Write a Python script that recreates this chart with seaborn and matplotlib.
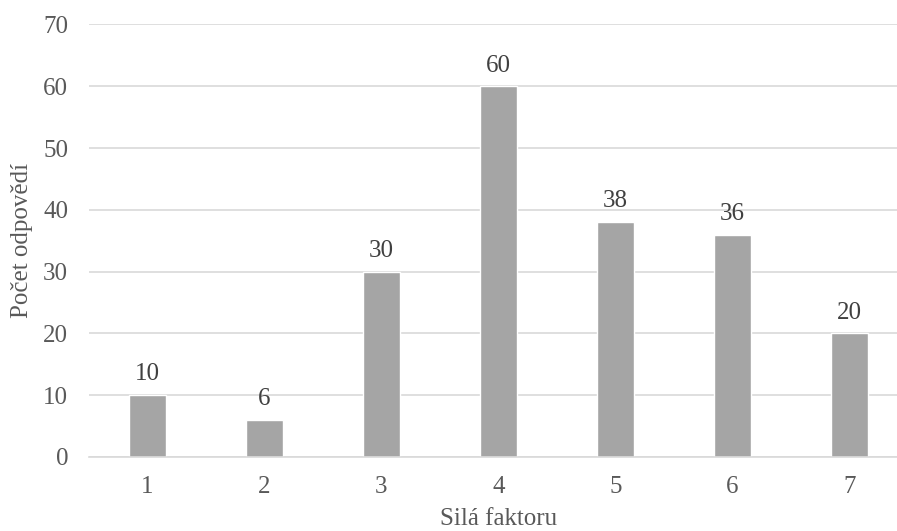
import matplotlib
matplotlib.use('Agg')
import matplotlib.pyplot as plt
import seaborn as sns
import pandas as pd

# Data
categories = ['1', '2', '3', '4', '5', '6', '7']
counts = [10, 6, 30, 60, 38, 36, 20]

df = pd.DataFrame({'Silá faktoru': categories, 'Počet odpovědí': counts})

sns.set_style("white")
plt.rcParams['font.family'] = ['Liberation Serif', 'DejaVu Serif']
text_color = '#595959'
label_color = '#404040'
FS = 18

fig = plt.figure(figsize=(8.97, 5.31), dpi=100)
ax = fig.add_axes([0.0992, 0.1394, 0.913, 0.8145])

sns.barplot(data=df, x='Silá faktoru', y='Počet odpovědí', color='#a5a5a5',
            width=0.32, saturation=1, ax=ax)

for container in ax.containers:
    ax.bar_label(container, fmt='%d', padding=7, fontsize=FS, color=label_color)

ax.set_ylim(0, 70)
ax.set_yticks(range(0, 71, 10))
ax.yaxis.grid(True, color='#d9d9d9', linewidth=1.2)
ax.set_axisbelow(True)
for side in ['top', 'right', 'left']:
    ax.spines[side].set_visible(False)
ax.spines['bottom'].set_color('#d9d9d9')
ax.spines['bottom'].set_linewidth(1.2)

ax.tick_params(axis='both', length=0, labelsize=FS, labelcolor=text_color)
ax.tick_params(axis='x', pad=14)
ax.tick_params(axis='y', pad=15)
ax.set_xlabel('Silá faktoru', fontsize=FS, color=text_color, labelpad=7)
ax.set_ylabel('Počet odpovědí', fontsize=FS, color=text_color)
ax.yaxis.set_label_coords(-0.068, 0.5)

fig.savefig('out.png', dpi=100)
